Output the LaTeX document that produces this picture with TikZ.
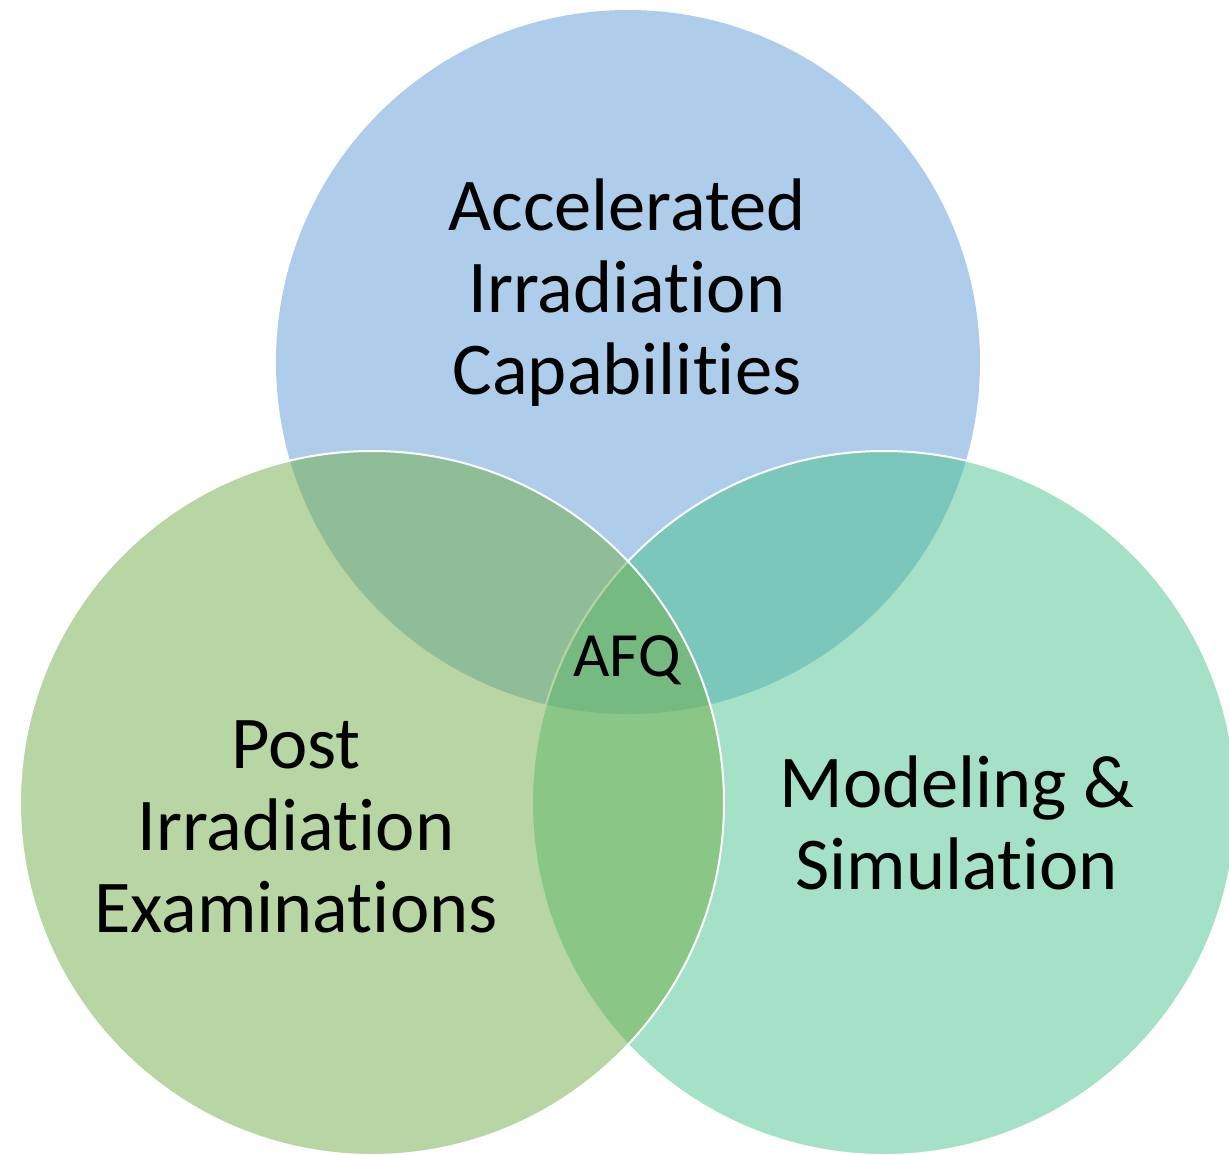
\documentclass[tikz,border=0pt]{standalone}
\usepackage{fontspec}
\setmainfont[Ligatures=NoCommon]{Carlito}
\definecolor{topblue}{RGB}{91,155,213}
\definecolor{rightgreen}{RGB}{75,195,141}
\definecolor{leftgreen}{RGB}{112,173,71}
\tikzset{
  venn/.style={fill opacity=0.5, draw=white, line width=2pt},
  biglabel/.style={align=center, font=\fontsize{74.5}{82}\selectfont, text=black, inner sep=0pt},
  smalllabel/.style={font=\fontsize{63}{68}\selectfont, text=black, inner sep=0pt}
}
\begin{document}
\begin{tikzpicture}[x=1pt,y=-1pt]
\useasboundingbox (0,0) rectangle (1229,1155);
\clip (0,0) rectangle (1229,1155);
\fill[topblue, fill opacity=0.5] (628,362) circle[radius=352];
\path[venn, fill=rightgreen] (884,803) circle[radius=352];
\path[venn, fill=leftgreen] (372,803) circle[radius=352];
\node[biglabel, anchor=base] (aic) at (627,395) {Accelerated\\Irradiation\\Capabilities};
\node[biglabel, anchor=base] (pie) at (296,932) {Post\\Irradiation\\Examinations};
\node[biglabel, anchor=base] (ms) at (957,889) {Modeling \&\\Simulation};
\node[smalllabel, anchor=base] (afq) at (627,676) {AFQ};
\end{tikzpicture}
\end{document}
